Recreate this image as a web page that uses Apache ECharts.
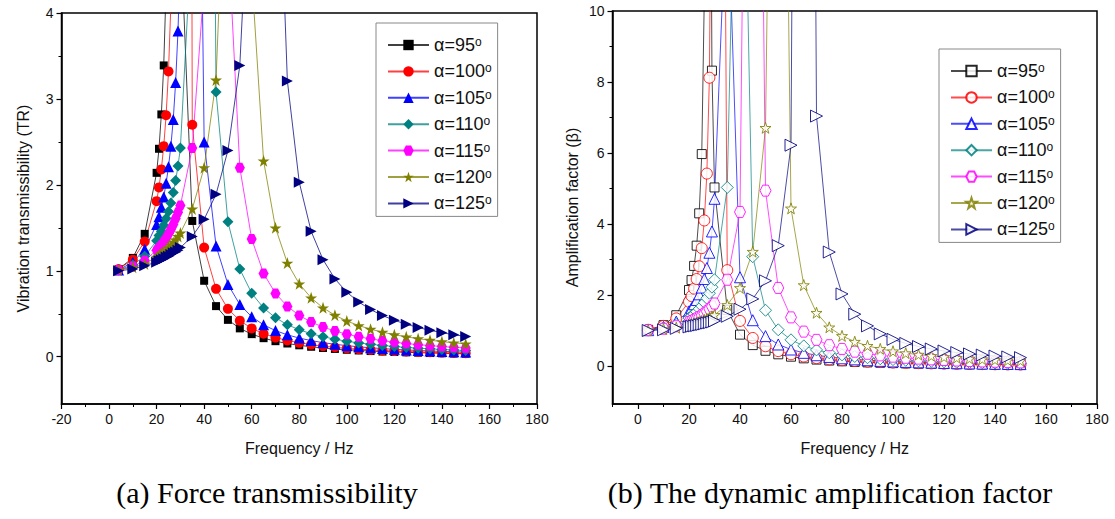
<!DOCTYPE html>
<html>
<head>
<meta charset="utf-8">
<script src="https://cdn.jsdelivr.net/npm/echarts@6/dist/echarts.min.js"></script>
<style>
html,body{margin:0;padding:0;background:#fff;}
#c{width:1115px;height:519px;}
</style>
</head>
<body>
<div id="c"></div>
<script>
// ---- data ----
const freq = [4,10,15,20,21,22,23,24,25,26,27,28,29,30,35,40,45,50,55,60,65,70,75,80,85,90,95,100,105,110,115,120,125,130,135,140,145,150];
const seriesNames = ['α=95','α=100','α=105','α=110','α=115','α=120','α=125'];
const a95  = [1.02,1.15,1.43,2.14,2.42,2.82,3.39,4.30,5.97,10.4,34.5,22.6,8.32,5.03,1.58,0.884,0.589,0.429,0.330,0.263,0.216,0.181,0.154,0.133,0.116,0.102,0.091,0.081,0.073,0.066,0.060,0.055,0.051,0.047,0.043,0.040,0.037,0.035];
const a100 = [1.02,1.13,1.34,1.81,1.97,2.18,2.45,2.81,3.32,4.10,5.42,8.12,16.9,60,2.70,1.27,0.790,0.557,0.420,0.330,0.268,0.223,0.189,0.162,0.141,0.124,0.110,0.098,0.088,0.080,0.073,0.066,0.061,0.056,0.052,0.048,0.044,0.041];
const a105 = [1.01,1.10,1.25,1.54,1.63,1.74,1.86,2.02,2.21,2.45,2.76,3.19,3.79,4.71,13.8,2.50,1.29,0.842,0.607,0.465,0.371,0.304,0.255,0.217,0.188,0.164,0.145,0.129,0.116,0.104,0.095,0.086,0.079,0.073,0.067,0.062,0.058,0.054];
const a110 = [1.01,1.07,1.17,1.35,1.41,1.46,1.53,1.61,1.69,1.79,1.91,2.05,2.22,2.43,5.03,21.5,3.08,1.57,1.02,0.738,0.567,0.454,0.373,0.314,0.268,0.233,0.204,0.180,0.161,0.145,0.131,0.119,0.108,0.100,0.092,0.085,0.078,0.073];
const a115 = [1.01,1.05,1.12,1.24,1.27,1.30,1.34,1.38,1.43,1.48,1.54,1.61,1.68,1.76,2.43,4.34,38.3,4.94,2.20,1.37,0.969,0.737,0.586,0.481,0.404,0.345,0.299,0.263,0.232,0.208,0.187,0.169,0.154,0.140,0.129,0.119,0.110,0.102];
const a120 = [1.01,1.04,1.08,1.16,1.18,1.20,1.22,1.24,1.27,1.30,1.33,1.36,1.40,1.44,1.72,2.20,3.22,6.71,33.6,4.44,2.28,1.50,1.09,0.848,0.685,0.569,0.483,0.416,0.363,0.321,0.286,0.256,0.232,0.210,0.192,0.176,0.162,0.150];
const a125 = [1.00,1.02,1.06,1.10,1.12,1.13,1.14,1.16,1.17,1.19,1.21,1.22,1.24,1.27,1.40,1.60,1.89,2.40,3.39,6.22,65.8,7.04,3.21,2.03,1.46,1.13,0.906,0.751,0.637,0.549,0.480,0.424,0.379,0.340,0.308,0.280,0.256,0.236];
const allValues = [a95,a100,a105,a110,a115,a120,a125];

const yTicksA = [0,1,2,3,4];
const yMinorA = [0.5,1.5,2.5,3.5];
const xTicksB = [0,20,40,60,80,100,120,140,160,180];
const xMinorB = [-10,10,30,50,70,90,110,130,150,170];
const yTicksB = [0,2,4,6,8,10];
const yMinorB = [1,3,5,7,9];

// ---- styles ----
const colors = ['#000000','#ff0000','#0000ff','#008080','#ff00ff','#808000','#000080'];
const STAR = 'path://M50,0 L61.8,35.1 L98.1,35.1 L68.8,56.8 L79.4,91.9 L50,70 L20.6,91.9 L31.2,56.8 L1.9,35.1 L38.2,35.1 Z';
const HEX = 'path://M25,6.7 L75,6.7 L100,50 L75,93.3 L25,93.3 L0,50 Z';
const RTRI = 'path://M0,0 L100,50 L0,100 Z';
const symbols = ['rect','circle','triangle','diamond',HEX,STAR,RTRI];
const sizeA = [8,10,11,11,10,12,11];
const sizeB = [9,11,11,12,11,11,12];

const FONT = '"Liberation Sans", Arial, sans-serif';
const SERIF = '"Liberation Serif", "Times New Roman", serif';
const txt = '#111';

function mainAxisCommon(){
  return {
    type:'value',
    splitLine:{show:false},
    axisLine:{show:true,onZero:false,lineStyle:{color:'#000',width:1.5}},
    axisTick:{show:true,inside:false,length:5,lineStyle:{color:'#000',width:1.2}},
    axisLabel:{color:txt,fontSize:14,fontFamily:FONT},
    nameTextStyle:{color:txt,fontSize:16,fontFamily:FONT}
  };
}
function minorAxis(extra){
  return Object.assign({
    type:'value',
    splitLine:{show:false},
    axisLine:{show:false,onZero:false},
    axisLabel:{show:false},
    axisTick:{show:true,inside:false,length:3,lineStyle:{color:'#000',width:1}}
  }, extra);
}

const xAxis = [
  Object.assign(mainAxisCommon(), {gridIndex:0, position:'bottom', min:-20, max:180, interval:20,
    minorTick:{show:true,splitNumber:2,length:3,lineStyle:{color:'#000',width:1}},
    name:'Frequency / Hz', nameLocation:'middle', nameGap:36}),
  Object.assign(mainAxisCommon(), {gridIndex:1, position:'bottom', min:-10, max:180,
    name:'Frequency / Hz', nameLocation:'middle', nameGap:36}),
  minorAxis({gridIndex:1, position:'bottom', min:-10, max:180})
];
xAxis[1].axisLabel = Object.assign({}, xAxis[1].axisLabel, {customValues:xTicksB});
xAxis[1].axisTick = Object.assign({}, xAxis[1].axisTick, {customValues:xTicksB});
xAxis[2].axisTick.customValues = xMinorB;

const yAxis = [
  Object.assign(mainAxisCommon(), {gridIndex:0, position:'left', min:-0.55, max:4,
    name:'Vibration transmissibility (TR)', nameLocation:'middle', nameGap:30}),
  minorAxis({gridIndex:0, position:'left', min:-0.55, max:4}),
  Object.assign(mainAxisCommon(), {gridIndex:1, position:'left', min:-1.07, max:10,
    name:'Amplification factor (β)', nameLocation:'middle', nameGap:32}),
  minorAxis({gridIndex:1, position:'left', min:-1.07, max:10})
];
yAxis[0].axisLabel = Object.assign({}, yAxis[0].axisLabel, {customValues:yTicksA});
yAxis[0].axisTick = Object.assign({}, yAxis[0].axisTick, {customValues:yTicksA});
yAxis[1].axisTick.customValues = yMinorA;
yAxis[2].axisLabel = Object.assign({}, yAxis[2].axisLabel, {customValues:yTicksB});
yAxis[2].axisTick = Object.assign({}, yAxis[2].axisTick, {customValues:yTicksB});
yAxis[3].axisTick.customValues = yMinorB;

const series = [];
seriesNames.forEach((nm,i)=>{
  const pts = freq.map((f,j)=>[f, allValues[i][j]]);
  series.push({
    type:'line', name:nm, xAxisIndex:0, yAxisIndex:0, data:pts,
    symbol:symbols[i], symbolSize:sizeA[i], showAllSymbol:true, clip:true,
    itemStyle:{color:colors[i]},
    lineStyle:{color:colors[i], width:1, opacity:0.75},
    emphasis:{disabled:true}
  });
});
seriesNames.forEach((nm,i)=>{
  const pts = freq.map((f,j)=>[f, allValues[i][j]]);
  series.push({
    type:'line', name:nm+' ', xAxisIndex:1, yAxisIndex:2, data:pts,
    symbol:symbols[i], symbolSize:sizeB[i], showAllSymbol:true, clip:true,
    itemStyle:{color:'#ffffff', borderColor:colors[i], borderWidth:1, opacity:0.85},
    lineStyle:{color:colors[i], width:1, opacity:0.7},
    emphasis:{disabled:true}
  });
});

const legendText = {
  color:txt, fontSize:18, fontFamily:FONT, lineHeight:18,
  rich:{s:{fontSize:12, fontFamily:FONT, verticalAlign:'top', lineHeight:18, color:txt}}
};
function legendFmt(name){ return name.trim() + '{s|o}'; }

const option = {
  animation:false,
  backgroundColor:'#ffffff',
  grid:[
    {left:61.5, top:13, width:475.5, height:391, show:true, borderColor:'#000', borderWidth:1.5, backgroundColor:'transparent'},
    {left:612.5, top:11, width:484.5, height:393, show:true, borderColor:'#000', borderWidth:1.5, backgroundColor:'transparent'}
  ],
  xAxis, yAxis, series,
  legend:[
    {data:seriesNames, orient:'vertical', left:376, top:23, itemWidth:41, itemHeight:13, itemGap:8.4,
     padding:[13,6,4,11], borderColor:'#888', borderWidth:1, backgroundColor:'#fff',
     textStyle:legendText, formatter:legendFmt, selectedMode:false},
    {data:seriesNames.map(n=>n+' '), orient:'vertical', left:939, top:49, itemWidth:41, itemHeight:13, itemGap:8.4,
     padding:[13,6,4,11], borderColor:'#888', borderWidth:1, backgroundColor:'#fff',
     textStyle:legendText, formatter:legendFmt, selectedMode:false}
  ],
  graphic:[
    {type:'text', x:267, y:492, style:{text:'(a) Force transmissibility', font:'30px ' + SERIF, fill:'#000', align:'center', verticalAlign:'middle', textAlign:'center', textVerticalAlign:'middle'}},
    {type:'text', x:830, y:492, style:{text:'(b) The dynamic amplification factor', font:'30px ' + SERIF, fill:'#000', align:'center', verticalAlign:'middle', textAlign:'center', textVerticalAlign:'middle'}}
  ]
};

const chart = echarts.init(document.getElementById('c'), null, {renderer:'svg', width:1115, height:519});
chart.setOption(option);
</script>
</body>
</html>
